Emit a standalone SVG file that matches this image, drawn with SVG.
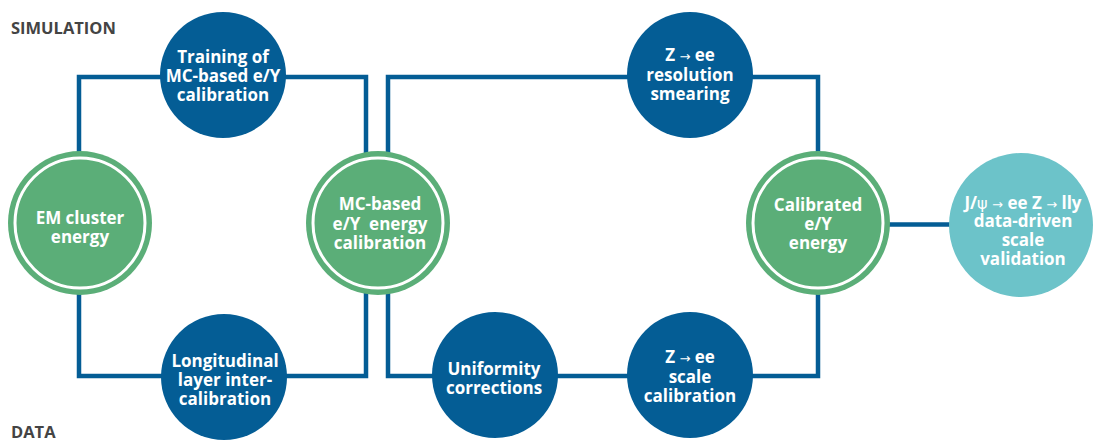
<svg xmlns="http://www.w3.org/2000/svg" width="1093" height="442" viewBox="0 0 1093 442">
  <style>
    .wire { fill: none; stroke: #045d95; stroke-width: 4.5; }
    .blue { fill: #045d95; }
    .green { fill: #5bae78; }
    .ring { fill: none; stroke: #ffffff; stroke-width: 3; }
    .teal { fill: #6cc3c9; }
    .lbl { font-family: "Open Sans", "Liberation Sans", sans-serif; font-weight: 700; font-size: 17px; fill: #ffffff; text-anchor: middle; }
    .arr { font-family: "DejaVu Sans", sans-serif; font-weight: 400; font-size: 13px; }
    .psi { font-family: "DejaVu Sans", sans-serif; font-weight: 400; font-size: 16px; }
    .side { font-family: "Open Sans", "Liberation Sans", sans-serif; font-weight: 700; font-size: 16.5px; fill: #444444; }
  </style>

  <!-- section captions -->
  <text class="side" x="11" y="34">SIMULATION</text>
  <text class="side" x="11" y="438">DATA</text>

  <!-- connectors -->
  <g id="connectors">
    <rect class="wire" x="79" y="77" width="287" height="299"/>
    <rect class="wire" x="388" y="77" width="430" height="299"/>
    <line class="wire" x1="888" y1="224.5" x2="952" y2="224.5"/>
  </g>

  <!-- inputs / outputs -->
  <g id="em-cluster">
    <circle class="green" cx="80" cy="223" r="72"/>
    <circle class="ring" cx="80" cy="223" r="65"/>
    <text class="lbl" x="80" y="224">EM cluster</text>
    <text class="lbl" x="80" y="243">energy</text>
  </g>

  <g id="mc-calibration">
    <circle class="green" cx="378" cy="223" r="72"/>
    <circle class="ring" cx="378" cy="223" r="65"/>
    <text class="lbl" x="380" y="210">MC-based</text>
    <text class="lbl" x="380" y="230" xml:space="preserve">e/Y  energy</text>
    <text class="lbl" x="380" y="249">calibration</text>
  </g>

  <g id="calibrated-energy">
    <circle class="green" cx="818" cy="223" r="72"/>
    <circle class="ring" cx="818" cy="223" r="65"/>
    <text class="lbl" x="818" y="211">Calibrated</text>
    <text class="lbl" x="818" y="230">e/Y</text>
    <text class="lbl" x="818" y="249">energy</text>
  </g>

  <!-- simulation steps -->
  <g id="training">
    <circle class="blue" cx="223" cy="75" r="63"/>
    <text class="lbl" x="223" y="63">Training of</text>
    <text class="lbl" x="223" y="82">MC-based e/Y</text>
    <text class="lbl" x="223" y="101">calibration</text>
  </g>

  <g id="resolution-smearing">
    <circle class="blue" cx="690" cy="75" r="63"/>
    <text class="lbl" x="690" y="61">Z <tspan class="arr">→</tspan> ee</text>
    <text class="lbl" x="690" y="81">resolution</text>
    <text class="lbl" x="690" y="100">smearing</text>
  </g>

  <!-- data steps -->
  <g id="layer-intercalibration">
    <circle class="blue" cx="224" cy="377" r="63"/>
    <text class="lbl" x="225" y="367">Longitudinal</text>
    <text class="lbl" x="225" y="386">layer inter-</text>
    <text class="lbl" x="225" y="405">calibration</text>
  </g>

  <g id="uniformity">
    <circle class="blue" cx="495" cy="375" r="63"/>
    <text class="lbl" x="494" y="375">Uniformity</text>
    <text class="lbl" x="494" y="394">corrections</text>
  </g>

  <g id="scale-calibration">
    <circle class="blue" cx="690" cy="375" r="63"/>
    <text class="lbl" x="690" y="363">Z <tspan class="arr">→</tspan> ee</text>
    <text class="lbl" x="690" y="383">scale</text>
    <text class="lbl" x="690" y="402">calibration</text>
  </g>

  <!-- validation -->
  <g id="validation">
    <circle class="teal" cx="1021" cy="225" r="72"/>
    <text class="lbl" x="1023" y="209">J/<tspan class="psi">ψ</tspan> <tspan class="arr">→</tspan> ee Z <tspan class="arr">→</tspan> lly</text>
    <text class="lbl" x="1023" y="227">data-driven</text>
    <text class="lbl" x="1023" y="246">scale</text>
    <text class="lbl" x="1023" y="265">validation</text>
  </g>
</svg>
